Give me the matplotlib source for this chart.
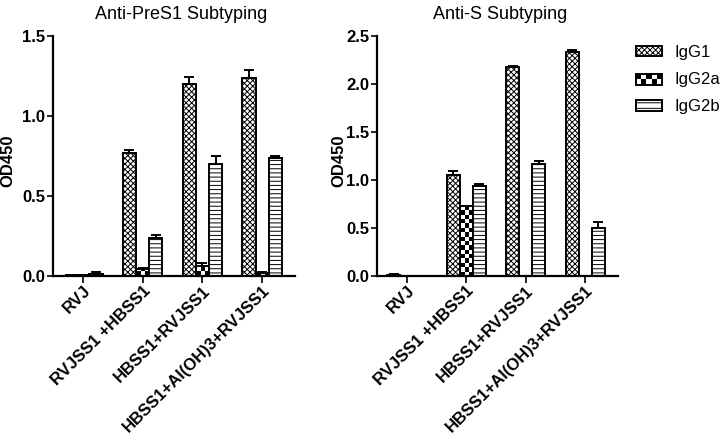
import numpy as np
import matplotlib
matplotlib.use("Agg")
import matplotlib.pyplot as plt
from matplotlib.patches import Patch, Rectangle

plt.rcParams['font.family'] = ['Liberation Sans', 'DejaVu Sans']
plt.rcParams['hatch.linewidth'] = 0.7

categories = ["RVJ", "RVJSS1 +HBSS1", "HBSS1+RVJSS1", "HBSS1+Al(OH)3+RVJSS1"]
series = ["IgG1", "IgG2a", "IgG2b"]

pres1_igg1 = [0.003, 0.77, 1.20, 1.24]
pres1_igg1_err = [0.002, 0.02, 0.045, 0.05]
pres1_igg2a = [0.005, 0.042, 0.065, 0.018]
pres1_igg2a_err = [0.003, 0.005, 0.018, 0.006]
pres1_igg2b = [0.015, 0.237, 0.70, 0.735]
pres1_igg2b_err = [0.008, 0.018, 0.05, 0.018]

s_igg1 = [0.01, 1.05, 2.18, 2.333]
s_igg1_err = [0.006, 0.045, 0.01, 0.02]
s_igg2a = [0.0, 0.725, 0.0, 0.0]
s_igg2a_err = [0.0, 0.005, 0.0, 0.0]
s_igg2b = [0.0, 0.935, 1.165, 0.495]
s_igg2b_err = [0.0, 0.02, 0.035, 0.07]

pres1_ticks = [0.0, 0.5, 1.0, 1.5]
s_ticks = [0.0, 0.5, 1.0, 1.5, 2.0, 2.5]

W, H = 724, 436
fig = plt.figure(figsize=(W / 100, H / 100), dpi=100)

def px_axes(x0, x1, y0, y1):
    return [x0 / W, 1 - y1 / H, (x1 - x0) / W, (y1 - y0) / H]

ax1 = fig.add_axes(px_axes(53, 295, 36, 276))
ax2 = fig.add_axes(px_axes(377, 618, 36, 276))

width = 0.22
offsets = [-0.22, 0.0, 0.22]
hatches = ['xxxxxx', None, '----']
EDGE_LW = 1.4


def checker_fill(ax, bars, cell_px=4.3):
    p0 = ax.transData.transform((0, 0))
    p1 = ax.transData.transform((1, 1))
    sx = p1[0] - p0[0]
    sy = p1[1] - p0[1]
    for rect in bars:
        h = rect.get_height()
        if h <= 0:
            continue
        x0 = rect.get_x()
        w = rect.get_width()
        ncols = max(1, int(round(w * sx / cell_px)))
        cw_px = w * sx / ncols
        ch = cw_px / sy
        nrows = int(np.ceil(h / ch)) + 1
        ii, jj = np.indices((nrows, ncols))
        arr = ((ii + jj) % 2).astype(float)
        im = ax.imshow(arr, cmap='gray', origin='lower', vmin=0, vmax=1,
                       extent=(x0, x0 + w, 0, nrows * ch), aspect='auto',
                       interpolation='nearest', zorder=1.5)
        im.set_clip_path(rect)


def panel(ax, vals, errs, ticks, title, title_x):
    x = np.arange(len(categories))
    ax.set_xlim(-0.5, 3.55)
    ax.set_ylim(0, ticks[-1])
    for k, (v, e) in enumerate(zip(vals, errs)):
        if k == 1:
            bars = ax.bar(x + offsets[k], v, width, facecolor='white',
                          edgecolor='black', linewidth=EDGE_LW, zorder=1)
            checker_fill(ax, bars)
            ax.bar(x + offsets[k], v, width, facecolor='none',
                   edgecolor='black', linewidth=EDGE_LW, zorder=2)
        else:
            ax.bar(x + offsets[k], v, width, facecolor='white',
                   edgecolor='black', hatch=hatches[k],
                   linewidth=EDGE_LW, zorder=2)
        ax.errorbar(x + offsets[k], v, yerr=[np.zeros(len(e)), e], fmt='none',
                    ecolor='black', elinewidth=1.4, capsize=3.5, capthick=1.4,
                    zorder=3)
    ax.set_xlim(-0.5, 3.55)
    ax.set_ylim(0, ticks[-1])
    ax.set_yticks(ticks)
    ax.set_yticklabels([f"{t:.1f}" for t in ticks], fontsize=12, fontweight='bold')
    ax.set_xticks(x)
    ax.set_xticklabels(categories, rotation=45, ha='right', rotation_mode='anchor',
                       fontsize=12, fontweight='bold')
    for s in ['top', 'right']:
        ax.spines[s].set_visible(False)
    for s in ['left', 'bottom']:
        ax.spines[s].set_linewidth(1.6)
    ax.tick_params(axis='y', length=4, width=1.2, pad=1.5)
    ax.tick_params(axis='x', length=5, width=1.2, pad=0)
    ax.set_ylabel("OD450", fontsize=12, fontweight='bold')
    ax.set_title(title, fontsize=13, x=title_x, pad=12)


panel(ax1, [pres1_igg1, pres1_igg2a, pres1_igg2b],
      [pres1_igg1_err, pres1_igg2a_err, pres1_igg2b_err],
      pres1_ticks, "Anti-PreS1 Subtyping", 0.53)
panel(ax2, [s_igg1, s_igg2a, s_igg2b],
      [s_igg1_err, s_igg2a_err, s_igg2b_err],
      s_ticks, "Anti-S Subtyping", 0.51)
ax1.yaxis.set_label_coords(-38 / 242, 0.48)
ax2.yaxis.set_label_coords(-31 / 241, 0.48)


class CheckerHandler:
    def legend_artist(self, legend, orig_handle, fontsize, handlebox):
        x0, y0 = handlebox.xdescent, handlebox.ydescent
        w, h = handlebox.width, handlebox.height
        ncols, nrows = 5, 2
        cw, ch = w / ncols, h / nrows
        tr = handlebox.get_transform()
        bg = Rectangle((x0, y0), w, h, facecolor='white', edgecolor='none', transform=tr)
        handlebox.add_artist(bg)
        for i in range(nrows):
            for j in range(ncols):
                if (i + j) % 2 == 1:
                    handlebox.add_artist(Rectangle((x0 + j * cw, y0 + i * ch), cw, ch,
                                                   facecolor='black', edgecolor='none',
                                                   transform=tr))
        border = Rectangle((x0, y0), w, h, facecolor='none', edgecolor='black',
                           linewidth=EDGE_LW, transform=tr)
        handlebox.add_artist(border)
        return border


h1 = Patch(facecolor='white', edgecolor='black', hatch=hatches[0], linewidth=EDGE_LW)
h2 = Patch(facecolor='white', edgecolor='black', linewidth=EDGE_LW)
h3 = Patch(facecolor='white', edgecolor='black', hatch='---', linewidth=EDGE_LW)
fig.legend([h1, h2, h3], series, loc='upper left',
           bbox_to_anchor=(636 / W, 1 - 45 / H), frameon=False,
           fontsize=12, handlelength=1.55, handleheight=0.6,
           handletextpad=0.75, labelspacing=0.73, borderpad=0, borderaxespad=0,
           handler_map={h2: CheckerHandler()})

fig.savefig("out.png", dpi=100)
